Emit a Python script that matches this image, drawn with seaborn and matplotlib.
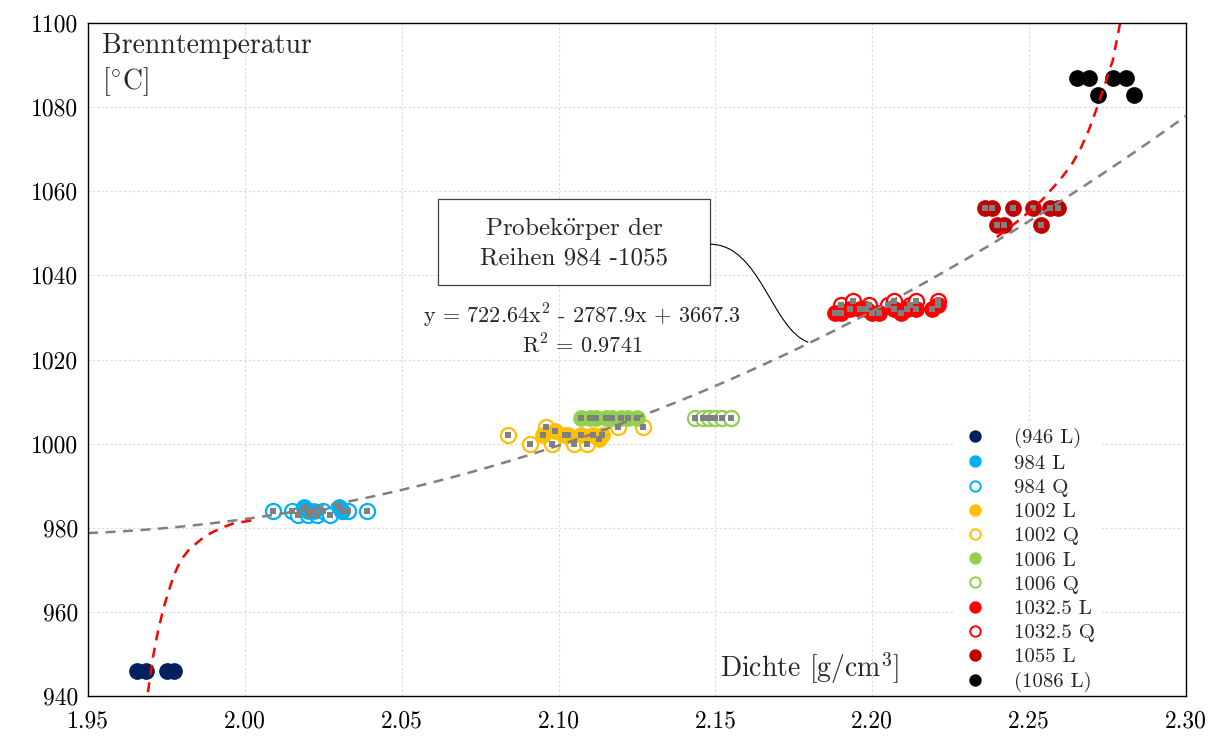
import numpy as np
import matplotlib
matplotlib.use("Agg")
import matplotlib.pyplot as plt
import seaborn as sns
from matplotlib.lines import Line2D
from matplotlib.patches import Rectangle, PathPatch
from matplotlib.path import Path

sns.set_theme(style="white")
SERIF = ["cmr10", "DejaVu Serif"]
plt.rcParams["font.family"] = SERIF
plt.rcParams["mathtext.fontset"] = "cm"
plt.rcParams["axes.formatter.use_mathtext"] = True

# --- measured points (density g/cm3, firing temperature degC) ---
x946 = [1.9656, 1.9685, 1.9752, 1.9774]
y946 = [946, 946, 946, 946]

x984L = [2.019, 2.020, 2.022, 2.030, 2.031]
y984L = [985, 984, 984, 985, 984]
x984Q = [2.009, 2.015, 2.017, 2.020, 2.023, 2.025, 2.027, 2.031, 2.033, 2.039]
y984Q = [984, 984, 983, 983, 983, 984, 983, 984, 984, 984]

x1002L = [2.095, 2.099, 2.102, 2.103, 2.107, 2.111, 2.113, 2.114]
y1002L = [1002, 1003, 1002, 1002, 1002, 1002, 1001, 1002]
x1002Q = [2.084, 2.091, 2.096, 2.098, 2.105, 2.109, 2.119, 2.127]
y1002Q = [1002, 1000, 1004, 1000, 1000, 1000, 1004, 1004]

x1006L = [2.107, 2.110, 2.112, 2.115, 2.117, 2.120, 2.122, 2.125]
y1006L = [1006, 1006, 1006, 1006, 1006, 1006, 1006, 1006]
x1006Q = [2.1434, 2.1460, 2.1479, 2.1498, 2.1520, 2.1550]
y1006Q = [1006, 1006, 1006, 1006, 1006, 1006]

x1032L = [2.188, 2.190, 2.193, 2.196, 2.198, 2.200, 2.202,
          2.207, 2.209, 2.211, 2.214, 2.219, 2.221]
y1032L = [1031, 1031, 1032, 1032, 1032, 1031, 1031,
          1032, 1031, 1032, 1032, 1032, 1033]
x1032Q = [2.190, 2.194, 2.199, 2.205, 2.207, 2.212, 2.214, 2.221]
y1032Q = [1033, 1034, 1033, 1033, 1034, 1033, 1034, 1034]

x1055 = [2.2360, 2.2382, 2.2449, 2.2513, 2.2567, 2.2592, 2.2398, 2.2420, 2.2538]
y1055 = [1056, 1056, 1056, 1056, 1056, 1056, 1052, 1052, 1052]

x1086 = [2.2653, 2.2691, 2.2719, 2.2767, 2.2809, 2.2834]
y1086 = [1087, 1087, 1083, 1087, 1087, 1083]

# quadratic trend: y = 722.64x^2 - 2787.9x + 3667.3
fit_coef = [722.64, -2787.9, 3667.3]

# hand-drawn red trend at the lower and upper end
red_low_x = [1.9691, 1.9699, 1.9707, 1.9722, 1.9739, 1.9750, 1.9761, 1.9772,
             1.9785, 1.9800, 1.9822, 1.9847, 1.9870, 1.9898, 1.9930, 1.9962, 2.0026]
red_low_y = [940.9, 945.0, 949.2, 955.0, 960.4, 963.2, 965.8, 968.3,
             970.6, 972.7, 974.8, 976.4, 977.8, 979.0, 980.1, 981.0, 981.8]
red_up_x = [2.2397, 2.2440, 2.2487, 2.2541, 2.2598, 2.2635, 2.2662, 2.2690,
            2.2716, 2.2742, 2.2767, 2.2790]
red_up_y = [1049.1, 1051.5, 1054.3, 1057.9, 1062.7, 1066.3, 1069.8, 1074.5,
            1079.8, 1085.5, 1091.2, 1100.0]

C946 = "#002060"
C984 = "#00B0F0"
C1002 = "#FFC000"
C1006 = "#92D050"
C1032 = "#FF0000"
C1055 = "#C00000"
C1086 = "#000000"
GREY = "#808080"

fig = plt.figure(figsize=(12.12, 7.41), dpi=100)
ax = fig.add_axes([88 / 1212, 45 / 741, 1098 / 1212, 673 / 741])

S_FILL = 145
S_OPEN = 118


def filled(x, y, c):
    sns.scatterplot(x=x, y=y, ax=ax, color=c, s=S_FILL, marker="o",
                    edgecolor=c, linewidth=0, zorder=3, legend=False)


def hollow(x, y, c):
    sns.scatterplot(x=x, y=y, ax=ax, s=S_OPEN, marker="o", facecolor="white",
                    edgecolor=c, linewidth=1.6, zorder=2, legend=False)


def squares(x, y):
    sns.scatterplot(x=x, y=y, ax=ax, color=GREY, s=25, marker="s",
                    linewidth=0, zorder=5, legend=False)


filled(x946, y946, C946)
hollow(x984Q, y984Q, C984)
filled(x984L, y984L, C984)
hollow(x1002Q, y1002Q, C1002)
filled(x1002L, y1002L, C1002)
hollow(x1006Q, y1006Q, C1006)
filled(x1006L, y1006L, C1006)
hollow(x1032Q, y1032Q, C1032)
filled(x1032L, y1032L, C1032)
filled(x1055, y1055, C1055)
filled(x1086, y1086, C1086)

for xs, ys in [(x984Q, y984Q), (x984L, y984L), (x1002Q, y1002Q), (x1002L, y1002L),
               (x1006Q, y1006Q), (x1006L, y1006L), (x1032Q, y1032Q), (x1032L, y1032L),
               (x1055, y1055)]:
    squares(xs, ys)

xf = np.linspace(1.95, 2.30, 300)
yf = np.polyval(fit_coef, xf)
sns.lineplot(x=xf, y=yf, ax=ax, color=GREY, lw=1.8, zorder=6,
             sort=False, estimator=None)
ax.lines[-1].set_dashes([4, 3])

for rx, ry in [(red_low_x, red_low_y), (red_up_x, red_up_y)]:
    sns.lineplot(x=rx, y=ry, ax=ax, color="#FF0000", lw=1.8, zorder=6,
                 sort=False, estimator=None)
    ax.lines[-1].set_dashes([4, 3])

ax.set_xlim(1.95, 2.30)
ax.set_ylim(940, 1100)
xt = np.arange(1.95, 2.301, 0.05)
ax.set_xticks(xt)
ax.set_xticklabels([f"{v:.2f}" for v in xt])
yt = np.arange(940, 1101, 20)
ax.set_yticks(yt)
ax.set_yticklabels([str(v) for v in yt])
ax.tick_params(axis="both", length=0, labelsize=17, colors="black")
ax.tick_params(axis="x", pad=10)
ax.tick_params(axis="y", pad=7)
for lab in ax.get_xticklabels() + ax.get_yticklabels():
    lab.set_family(SERIF)

ax.grid(True, color="#d9d9d9", linestyle=(0, (2, 2)), linewidth=0.8)
ax.set_axisbelow(True)
for sp in ax.spines.values():
    sp.set_color("black")
    sp.set_linewidth(1.0)
    sp.set_zorder(10)

ax.set_xlabel("")
ax.set_ylabel("")
ax.text(0.013, 0.985, "Brenntemperatur\n[$^{\\circ}$C]", transform=ax.transAxes,
        ha="left", va="top", fontsize=20, family=SERIF, linespacing=1.25)
ax.text(0.739, 0.015, "Dichte [g/cm$^{3}$]", transform=ax.transAxes,
        ha="right", va="bottom", fontsize=20, family=SERIF)

# label box with curved leader
ax.add_patch(Rectangle((2.0616, 1037.7), 2.1483 - 2.0616, 1058.1 - 1037.7,
                       fc="white", ec="#404040", lw=0.9, zorder=7))
ax.text(2.1049, 1047.9, "Probek$\\ddot{\\mathrm{o}}$rper der\nReihen 984 -1055",
        ha="center", va="center", fontsize=18, family=SERIF,
        linespacing=1.3, zorder=8)
leader = Path([(2.1483, 1047.4), (2.1642, 1047.4), (2.1680, 1027.2), (2.1796, 1024.1)],
              [Path.MOVETO, Path.CURVE4, Path.CURVE4, Path.CURVE4])
ax.add_patch(PathPatch(leader, fc="none", ec="black", lw=0.8, zorder=7))

ax.text(2.1075, 1030.3, "y = 722.64x$^{2}$ - 2787.9x + 3667.3", ha="center",
        va="center", fontsize=16, family=SERIF, zorder=7)
ax.text(2.1075, 1023.4, "R$^{2}$ = 0.9741", ha="center", va="center",
        fontsize=16, family=SERIF, zorder=7)

# legend
entries = [("(946 L)", C946, True), ("984 L", C984, True), ("984 Q", C984, False),
           ("1002 L", C1002, True), ("1002 Q", C1002, False),
           ("1006 L", C1006, True), ("1006 Q", C1006, False),
           ("1032.5 L", C1032, True), ("1032.5 Q", C1032, False),
           ("1055 L", C1055, True), ("(1086 L)", C1086, True)]
handles = []
for lab, c, full in entries:
    handles.append(Line2D([], [], linestyle="none", marker="o", markersize=7.5,
                          markerfacecolor=c if full else "white",
                          markeredgecolor=c, markeredgewidth=1.4, label=lab))
leg = ax.legend(handles=handles, loc="upper left", bbox_to_anchor=(0.780, 0.424),
                frameon=True, fancybox=False, framealpha=1, facecolor="white",
                edgecolor="none", handletextpad=1.3,
                labelspacing=0.27, borderpad=0.35, handlelength=1.2,
                prop={"family": SERIF, "size": 15})
leg.set_zorder(8)

fig.savefig("out.png", dpi=100)
